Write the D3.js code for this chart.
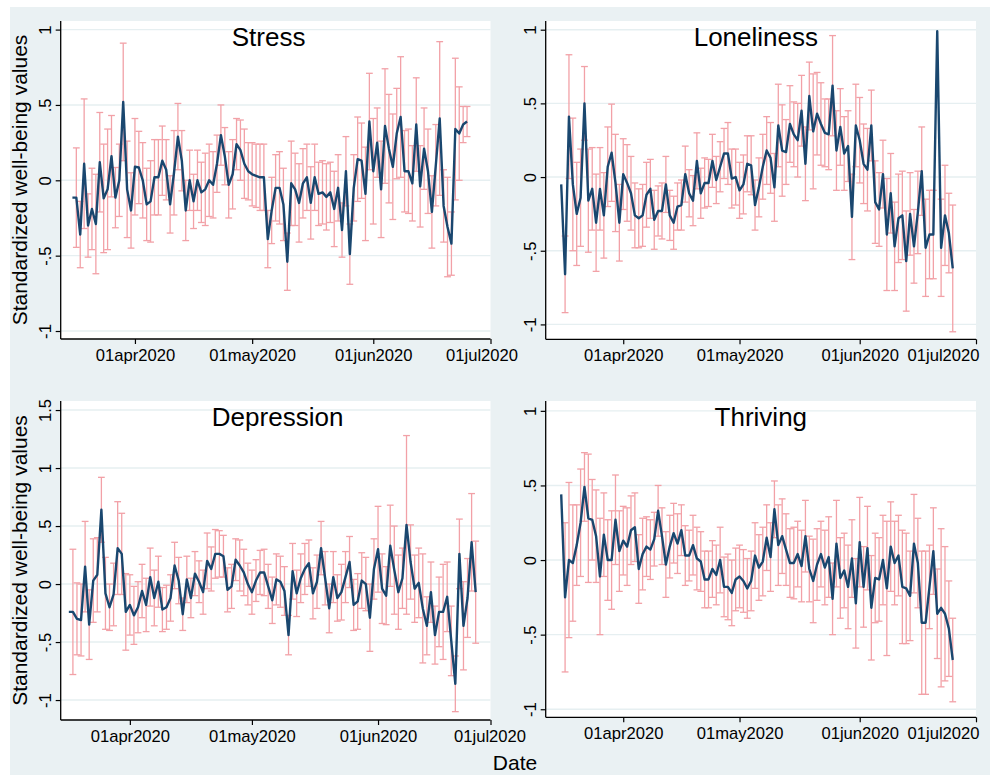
<!DOCTYPE html>
<html>
<head>
<meta charset="utf-8">
<script src="https://cdn.jsdelivr.net/npm/d3@7"></script>
<style>
  body { margin: 0; background: #ffffff; }
  svg { display: block; }
  text { font-family: "Liberation Sans", Arial, Helvetica, sans-serif; fill: #000; }
</style>
</head>
<body>
<svg id="chart" width="990" height="775"></svg>
<script>
// Daily survey means (standardized) with 95% CI half-widths, 16 Mar 2020 - 25 Jun 2020.
// null = no estimate / no interval for that day.
const dayStart = new Date(2020, 2, 16);
const dayStop = new Date(2020, 5, 26);

const stressMean = [
  -0.115, -0.115, -0.36, 0.11, -0.30, -0.19, -0.29, 0.12, -0.12, -0.06,
  0.16, -0.115, 0.0, 0.52, -0.06, -0.20, 0.09, 0.085, 0.0, -0.16,
  -0.14, 0.02, 0.02, 0.13, 0.07, -0.16, 0.05, 0.29, 0.13, -0.20,
  0.0, -0.14, 0.0, -0.08, -0.06, 0.0, -0.03, 0.11, 0.30, 0.16,
  -0.03, 0.04, 0.24, 0.20, 0.11, 0.06, 0.04, 0.03, 0.02, 0.02,
  -0.39, -0.20, -0.05, -0.05, -0.16, -0.54, -0.02, -0.06, -0.15, -0.02,
  0.02, -0.15, 0.02, -0.09, -0.08, -0.11, -0.08, -0.19, -0.05, -0.33,
  0.06, -0.49, -0.05, 0.14, 0.13, -0.09, 0.39, 0.06, 0.25, -0.06,
  0.36, 0.21, 0.09, 0.31, 0.42, 0.06, 0.06, -0.02, 0.37, -0.04,
  0.21, 0.06, -0.21, 0.10, 0.41, -0.17, -0.31, -0.42, 0.34, 0.31,
  0.37, 0.39
];
const stressMargin = [
  null, 0.33, 0.22, 0.43, 0.21, 0.27, 0.33, 0.33, 0.36, 0.40,
  0.27, 0.20, 0.24, 0.39, 0.32, 0.25, 0.32, 0.24, 0.25, 0.24,
  0.27, 0.25, 0.25, 0.23, 0.20, 0.19, 0.28, 0.22, 0.20, 0.20,
  0.20, 0.18, 0.20, 0.20, 0.24, 0.24, 0.22, 0.19, 0.20, 0.19,
  0.22, 0.23, 0.17, 0.20, 0.23, 0.19, 0.21, 0.21, 0.22, 0.22,
  0.19, 0.22, 0.22, 0.24, 0.24, 0.19, 0.28, 0.24, 0.26, 0.23,
  0.22, 0.24, 0.22, 0.21, 0.21, 0.22, 0.20, 0.25, 0.22, 0.18,
  0.23, 0.20, 0.22, 0.28, 0.25, 0.31, 0.32, 0.35, 0.23, 0.32,
  0.38, 0.36, 0.35, 0.30, 0.40, 0.27, 0.28, 0.25, 0.31, 0.27,
  0.27, 0.28, 0.24, 0.27, 0.51, 0.24, 0.33, 0.21, 0.47, 0.31,
  0.12, 0.10
];

const lonelinessMean = [
  -0.05, -0.66, 0.41, -0.05, -0.25, -0.14, 0.50, -0.16, -0.08, -0.31,
  -0.08, -0.26, 0.07, 0.165, -0.04, -0.31, 0.02, -0.04, -0.11, -0.26,
  -0.28, -0.26, -0.12, -0.08, -0.29, -0.23, -0.23, -0.05, -0.26, -0.31,
  -0.20, -0.19, 0.02, -0.11, -0.16, 0.11, -0.11, -0.04, -0.04, 0.11,
  -0.02, 0.07, 0.16, 0.16, -0.01, 0.0, -0.09, -0.05, 0.09, 0.08,
  -0.19, -0.07, 0.07, 0.18, 0.13, -0.07, 0.35, 0.18, 0.17, 0.36,
  0.29, 0.25, 0.45, 0.09, 0.55, 0.31, 0.43, 0.36, 0.30, 0.29,
  0.62, 0.18, 0.34, 0.16, 0.21, -0.27, 0.35, 0.25, 0.09, 0.05,
  0.35, -0.17, -0.22, 0.02, -0.39, -0.11, -0.47, -0.28, -0.26, -0.57,
  -0.25, -0.47, -0.24, 0.04, -0.48, -0.39, -0.39, 0.99, -0.48, -0.26,
  -0.38, -0.62
];
const lonelinessMargin = [
  null, 0.26, 0.42, 0.45, 0.35, 0.33, 0.25, 0.35, 0.28, 0.33,
  0.28, 0.29, 0.27, 0.33, 0.33, 0.26, 0.24, 0.26, 0.25, 0.22,
  0.20, 0.21, 0.22, 0.20, 0.20, 0.17, 0.19, 0.19, 0.17, 0.18,
  0.16, 0.17, 0.19, 0.16, 0.17, 0.19, 0.17, 0.17, 0.16, 0.18,
  0.16, 0.17, 0.17, 0.21, 0.20, 0.19, 0.19, 0.20, 0.19, 0.20,
  0.17, 0.20, 0.22, 0.23, 0.24, 0.23, 0.28, 0.31, 0.22, 0.26,
  0.22, 0.25, 0.24, 0.25, 0.23, 0.39, 0.28, 0.28, 0.23, 0.24,
  0.34, 0.27, 0.26, 0.25, 0.24, 0.29, 0.28, 0.29, 0.27, 0.28,
  0.24, 0.28, 0.25, 0.23, 0.38, 0.27, 0.30, 0.30, 0.30, 0.34,
  0.28, 0.25, 0.28, 0.30, 0.33, 0.30, 0.30, null, 0.33, 0.34,
  0.27, 0.43
];

const depressionMean = [
  null, -0.24, -0.24, -0.30, -0.31, 0.15, -0.35, 0.03, 0.08, 0.64,
  -0.08, -0.20, -0.09, 0.31, 0.26, -0.24, -0.18, -0.27, -0.20, -0.06,
  -0.18, 0.06, -0.12, 0.02, -0.22, -0.20, -0.12, 0.16, 0.03, -0.26,
  0.04, -0.12, 0.09, 0.02, -0.07, 0.20, 0.13, 0.26, 0.26, 0.24,
  -0.05, -0.02, 0.21, 0.16, 0.10, 0.0, -0.07, 0.03, 0.10, 0.10,
  -0.02, -0.14, 0.04, 0.02, -0.06, -0.44, 0.11, -0.08, 0.05, 0.13,
  0.18, -0.08, 0.02, 0.31, 0.05, -0.21, 0.06, -0.12, -0.07, 0.06,
  0.19, -0.18, -0.15, 0.03, 0.0, -0.29, 0.13, 0.30, -0.04, -0.10,
  0.33, 0.12, -0.07, 0.05, 0.51, 0.19, -0.04, 0.01, -0.21, -0.36,
  -0.07, -0.44, -0.24, -0.24, -0.11, -0.49, -0.86, 0.26, -0.36, -0.12,
  0.36, -0.07
];
const depressionMargin = [
  null, null, 0.54, 0.31, 0.31, 0.39, 0.30, 0.36, 0.32, 0.28,
  0.31, 0.20, 0.27, 0.40, 0.35, 0.33, 0.26, 0.25, 0.22, 0.23,
  0.23, 0.25, 0.24, 0.22, 0.19, 0.19, 0.20, 0.20, 0.20, 0.14,
  0.20, 0.17, 0.19, 0.18, 0.19, 0.24, 0.19, 0.21, 0.20, 0.18,
  0.19, 0.19, 0.18, 0.22, 0.20, 0.18, 0.19, 0.18, 0.19, 0.20,
  0.19, 0.20, 0.22, 0.22, 0.21, 0.17, 0.24, 0.20, 0.21, 0.22,
  0.20, 0.22, 0.23, 0.23, 0.23, 0.21, 0.22, 0.20, 0.24, 0.22,
  0.22, 0.22, 0.24, 0.24, 0.23, 0.29, 0.26, 0.37, 0.30, 0.25,
  0.35, 0.38, 0.32, 0.26, 0.77, 0.32, 0.29, 0.30, 0.47, 0.25,
  0.26, 0.25, 0.30, 0.41, 0.30, 0.30, 0.24, 0.30, 0.38, 0.34,
  0.42, 0.44
];

const thrivingMean = [
  0.44, -0.25, 0.0, -0.02, 0.10, 0.25, 0.49, 0.28, 0.27, 0.16,
  -0.11, 0.17, 0.0, 0.0, 0.27, 0.06, 0.13, 0.09, 0.20, 0.22,
  -0.06, 0.04, 0.09, 0.07, 0.14, 0.33, 0.16, -0.03, 0.09, 0.18,
  0.11, 0.20, 0.03, 0.03, 0.10, 0.01, -0.01, -0.13, -0.13, -0.06,
  -0.10, 0.0, -0.18, -0.18, -0.22, -0.13, -0.11, -0.14, -0.19, -0.14,
  0.03, -0.05, -0.01, 0.15, 0.02, 0.34, 0.10, 0.16, 0.07, -0.02,
  -0.02, 0.04, -0.04, 0.16, -0.06, -0.14, -0.03, 0.04, -0.05, 0.02,
  -0.26, 0.11, -0.12, -0.07, -0.18, 0.01, -0.29, 0.12, -0.18, 0.08,
  -0.32, -0.12, -0.13, 0.0, -0.19, 0.09, -0.02, 0.03, -0.18, -0.19,
  -0.24, 0.11, -0.02, -0.42, -0.42, -0.18, 0.06, -0.36, -0.32, -0.36,
  -0.46, -0.67
];
const thrivingMargin = [
  null, 0.50, 0.52, 0.39, 0.27, 0.36, 0.23, 0.43, 0.27, 0.31,
  0.39, 0.28, 0.27, 0.33, 0.30, 0.27, 0.23, 0.26, 0.23, 0.23,
  0.23, 0.24, 0.20, 0.20, 0.18, 0.17, 0.19, 0.22, 0.21, 0.20,
  0.20, 0.17, 0.20, 0.17, 0.20, 0.21, 0.20, 0.19, 0.19, 0.19,
  0.20, 0.22, 0.20, 0.22, 0.22, 0.21, 0.21, 0.21, 0.20, 0.20,
  0.22, 0.22, 0.23, 0.22, 0.23, 0.19, 0.27, 0.25, 0.24, 0.23,
  0.24, 0.22, 0.24, 0.24, 0.22, 0.28, 0.24, 0.22, 0.25, 0.27,
  0.24, 0.29, 0.27, 0.25, 0.28, 0.26, 0.30, 0.30, 0.27, 0.28,
  0.35, 0.30, 0.28, 0.30, 0.45, 0.30, 0.28, 0.27, 0.38, 0.37,
  0.30, 0.33, 0.30, 0.48, 0.48, 0.28, 0.29, 0.30, 0.53, 0.45,
  0.32, 0.28
];

// Axis ticks
const xTickDates = [new Date(2020, 3, 1), new Date(2020, 4, 1), new Date(2020, 5, 1), new Date(2020, 6, 1)];
const xTickLabels = ["01apr2020", "01may2020", "01jun2020", "01jul2020"];
const yTicks = [-1, -0.5, 0, 0.5, 1];
const yTickLabels = ["-1", "-.5", "0", ".5", "1"];
const yTicksDepression = [-1, -0.5, 0, 0.5, 1, 1.5];
const yTickLabelsDepression = ["-1", "-.5", "0", ".5", "1", "1.5"];

const panelTitles = ["Stress", "Loneliness", "Depression", "Thriving"];
const yAxisTitle = "Standardized well-being values";
const xAxisTitle = "Date";

// ---- layout ----
const W = 990, H = 775;
const C = {
  region: "#eaf1f3",
  grid: "#e6eff1",
  line: "#1a476f",
  ci: "#f2a1a7"
};
const FONT_TICK = 16.6, FONT_TITLE = 26, FONT_AXTITLE = 21;

// lastLabelDx: horizontal nudge of the rightmost date label so it stays inside the graph
const layout = [
  { left: 60.7, right: 490.5, top: 21, bottom: 339, yMin: -1.053, yMax: 1.057,
    xDomain: [new Date(2020, 2, 13), new Date(2020, 6, 1)], xRangeFrac: [0, 1],
    titleDx: -7, yTitle: true, lastLabelDx: -9 },
  { left: 545.7, right: 976, top: 21, bottom: 339.3, yMin: -1.101, yMax: 1.059,
    xDomain: [new Date(2020, 2, 12), new Date(2020, 6, 1)], xRangeFrac: [0, 1],
    titleDx: -5, yTitle: false, lastLabelDx: -33 },
  { left: 60.7, right: 490.5, top: 401, bottom: 720, yMin: -1.172, yMax: 1.578,
    xDomain: [new Date(2020, 2, 15), new Date(2020, 5, 25), new Date(2020, 6, 1)], xRangeFrac: [0, 0.9655, 1],
    titleDx: 2, yTitle: true, lastLabelDx: -1 },
  { left: 545.7, right: 976, top: 401, bottom: 717.3, yMin: -1.054, yMax: 1.066,
    xDomain: [new Date(2020, 2, 12), new Date(2020, 6, 1)], xRangeFrac: [0, 1],
    titleDx: 0, yTitle: false, lastLabelDx: -33 }
];

const series = [
  { mean: stressMean, margin: stressMargin, ticks: yTicks, labels: yTickLabels },
  { mean: lonelinessMean, margin: lonelinessMargin, ticks: yTicks, labels: yTickLabels },
  { mean: depressionMean, margin: depressionMargin, ticks: yTicksDepression, labels: yTickLabelsDepression },
  { mean: thrivingMean, margin: thrivingMargin, ticks: yTicks, labels: yTickLabels }
];

const days = d3.timeDay.range(dayStart, dayStop);

const svg = d3.select("#chart");
svg.append("rect").attr("width", W).attr("height", H).attr("fill", "#ffffff");
svg.append("rect").attr("x", 10).attr("y", 7).attr("width", W - 10).attr("height", H - 7).attr("fill", C.region);

series.forEach((s, i) => {
  const L = layout[i];
  const g = svg.append("g");
  const pw = L.right - L.left;

  const x = d3.scaleTime()
    .domain(L.xDomain)
    .range(L.xRangeFrac.map(f => L.left + f * pw));
  const y = d3.scaleLinear().domain([L.yMin, L.yMax]).range([L.bottom, L.top]);

  // plot area
  g.append("rect").attr("x", L.left).attr("y", L.top)
    .attr("width", pw).attr("height", L.bottom - L.top).attr("fill", "#ffffff");

  // horizontal grid
  g.append("g").selectAll("line").data(s.ticks).join("line")
    .attr("x1", L.left).attr("x2", L.right)
    .attr("y1", d => y(d)).attr("y2", d => y(d))
    .attr("stroke", C.grid).attr("stroke-width", 1.4);

  // title
  g.append("text")
    .attr("x", (L.left + L.right) / 2 + L.titleDx)
    .attr("y", L.top + 25.3)
    .attr("text-anchor", "middle")
    .attr("font-size", FONT_TITLE)
    .text(panelTitles[i]);

  const pts = days.map((d, k) => ({ date: d, mean: s.mean[k], m: s.margin[k] }));

  // confidence intervals
  const ci = g.append("g").attr("stroke", C.ci).attr("stroke-width", 1.3).attr("fill", "none");
  pts.filter(p => p.mean != null && p.m != null).forEach(p => {
    const cx = x(p.date), y1 = y(p.mean - p.m), y2 = y(p.mean + p.m);
    ci.append("line").attr("x1", cx).attr("x2", cx).attr("y1", y1).attr("y2", y2);
    ci.append("line").attr("x1", cx - 3.4).attr("x2", cx + 3.4).attr("y1", y1).attr("y2", y1);
    ci.append("line").attr("x1", cx - 3.4).attr("x2", cx + 3.4).attr("y1", y2).attr("y2", y2);
  });

  // daily mean line
  const line = d3.line()
    .defined(p => p.mean != null)
    .x(p => x(p.date))
    .y(p => y(p.mean));
  g.append("path").datum(pts)
    .attr("d", line)
    .attr("fill", "none")
    .attr("stroke", C.line)
    .attr("stroke-width", 2.4)
    .attr("stroke-linejoin", "round");

  // x axis
  const xAxis = d3.axisBottom(x)
    .tickValues(xTickDates)
    .tickFormat((d, k) => xTickLabels[k])
    .tickSizeInner(5).tickSizeOuter(0).tickPadding(5);
  const gx = g.append("g").attr("transform", `translate(0,${L.bottom})`).call(xAxis);
  gx.select(".domain").attr("stroke", "#000").attr("stroke-width", 1.3)
    .attr("d", `M${L.left},0H${L.right}`);
  gx.selectAll(".tick line").attr("stroke", "#000").attr("stroke-width", 1.2);
  gx.selectAll(".tick text").attr("font-size", FONT_TICK)
    .attr("font-family", '"Liberation Sans", Arial, sans-serif').attr("fill", "#000")
    .attr("dx", (d, k) => (k === xTickDates.length - 1 ? L.lastLabelDx : 0));

  // y axis
  const yAxis = d3.axisLeft(y)
    .tickValues(s.ticks)
    .tickFormat((d, k) => s.labels[k])
    .tickSizeInner(5).tickSizeOuter(0);
  const gy = g.append("g").attr("transform", `translate(${L.left},0)`).call(yAxis);
  gy.select(".domain").attr("stroke", "#000").attr("stroke-width", 1.3)
    .attr("d", `M0,${L.top}V${L.bottom}`);
  gy.selectAll(".tick line").attr("stroke", "#000").attr("stroke-width", 1.2);
  gy.selectAll(".tick text")
    .attr("font-size", FONT_TICK)
    .attr("font-family", '"Liberation Sans", Arial, sans-serif')
    .attr("fill", "#000")
    .attr("text-anchor", "middle")
    .attr("x", 0).attr("y", -10).attr("dy", 0)
    .attr("transform", "rotate(-90)");

  if (L.yTitle) {
    g.append("text")
      .attr("transform", `translate(26.7,${(L.top + L.bottom) / 2}) rotate(-90)`)
      .attr("text-anchor", "middle")
      .attr("font-size", FONT_AXTITLE)
      .text(yAxisTitle);
  }
});

svg.append("text")
  .attr("x", 515).attr("y", 770)
  .attr("text-anchor", "middle")
  .attr("font-size", FONT_AXTITLE)
  .text(xAxisTitle);
</script>
</body>
</html>
